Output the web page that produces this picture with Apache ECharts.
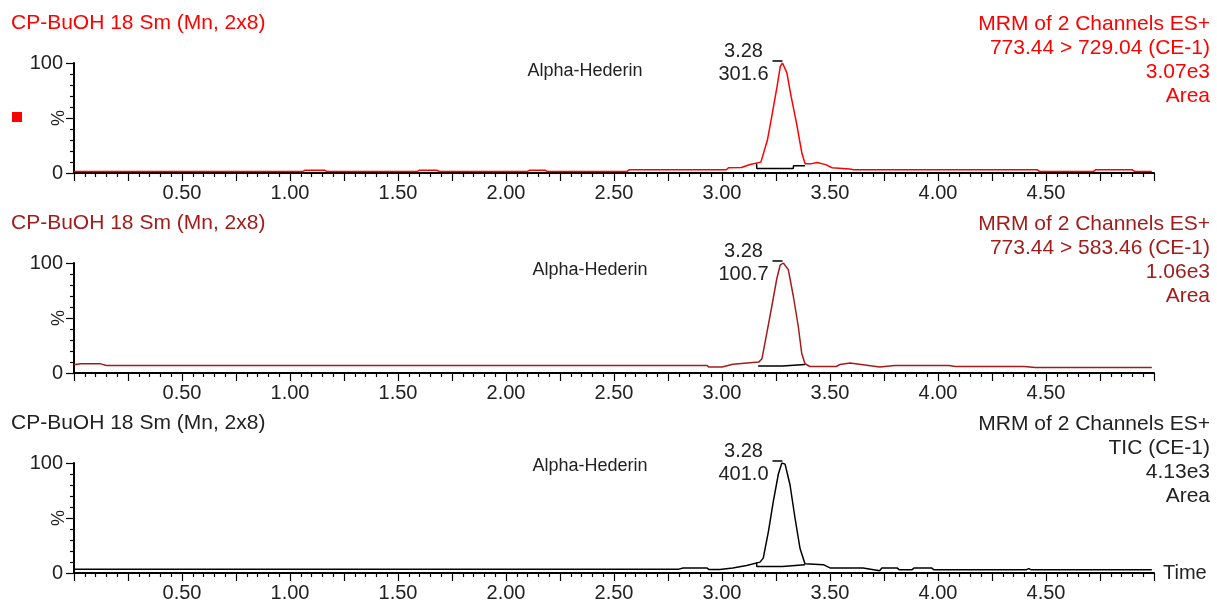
<!DOCTYPE html>
<html>
<head>
<meta charset="utf-8">
<script src="https://cdn.jsdelivr.net/npm/echarts@6/dist/echarts.min.js"></script>
<style>
  html,body{margin:0;padding:0;background:#fff;}
  #chart{width:1217px;height:606px;}
</style>
</head>
<body>
<div id="chart"></div>
<script>
(function(){
  const FONT = '"Liberation Sans", Arial, sans-serif';
  const TXT = '#222';

  // texts
  const sampleName = 'CP-BuOH 18 Sm (Mn, 2x8)';
  const compound = 'Alpha-Hederin';
  const peakTime = 3.28;
  const peakHeights = ['301.6', '100.7', '401.0'];
  const header1 = ['MRM of 2 Channels ES+', '773.44 > 729.04 (CE-1)', '3.07e3', 'Area'];
  const header2 = ['MRM of 2 Channels ES+', '773.44 > 583.46 (CE-1)', '1.06e3', 'Area'];
  const header3 = ['MRM of 2 Channels ES+', 'TIC (CE-1)', '4.13e3', 'Area'];
  const xTickLabels = ['0.50','1.00','1.50','2.00','2.50','3.00','3.50','4.00','4.50'];
  const yTickLabels = ['0', '100'];

  // traces: [time (min), % of peak]
  const trace1 = [[0.00,1.4],[1.06,1.4],[1.07,2.6],[1.16,2.6],[1.17,1.4],[1.59,1.4],[1.60,2.6],[1.68,2.6],
    [1.69,1.4],[2.10,1.4],[2.11,2.6],[2.18,2.6],[2.19,1.4],[2.56,1.4],[2.57,2.9],[3.02,2.9],[3.03,4.8],
    [3.09,5.0],[3.13,7.8],[3.18,9.9],[3.21,29.7],[3.23,51.0],[3.255,78.7],[3.27,97.0],[3.28,100],
    [3.30,91.3],[3.32,69.6],[3.345,45.4],[3.37,17.9],[3.385,8.3],[3.41,8.3],[3.44,9.5],[3.48,7.6],
    [3.51,4.8],[3.59,3.7],[3.61,2.9],[4.46,2.9],[4.47,1.4],[4.72,1.4],[4.73,2.9],[4.90,2.9],[4.91,1.4],[4.99,1.4]];
  const base1 = [[3.16,8.6],[3.161,4.2],[3.33,4.2],[3.331,6.6],[3.384,6.6]];

  const trace2 = [[0.00,7.5],[0.03,8.5],[0.12,8.5],[0.15,6.9],[2.93,6.9],[2.94,5.4],[3.00,5.4],[3.05,8.0],
    [3.17,9.9],[3.185,13.0],[3.207,35.8],[3.23,60.0],[3.253,85.0],[3.269,98.0],[3.284,100],[3.307,94.0],
    [3.33,70.0],[3.353,42.5],[3.369,18.0],[3.384,8.4],[3.407,5.9],[3.53,5.9],[3.546,7.8],[3.593,9.0],
    [3.653,7.6],[3.73,5.4],[3.80,6.9],[4.05,6.9],[4.08,5.9],[4.40,5.9],[4.45,5.0],[4.99,5.0]];
  const base2 = [[3.167,6.4],[3.28,6.4],[3.281,7.8],[3.384,7.8]];

  const trace3 = [[0.00,3.5],[2.80,3.5],[2.82,4.6],[2.93,4.6],[2.94,3.1],[2.99,3.1],[3.05,4.6],[3.114,6.9],
    [3.176,9.9],[3.191,13.5],[3.215,37.9],[3.238,65.5],[3.261,90.0],[3.277,100],[3.292,99.0],[3.315,80.0],
    [3.338,50.0],[3.361,22.5],[3.384,8.4],[3.469,7.6],[3.50,4.6],[3.653,4.6],[3.66,3.0],[3.73,2.1],
    [3.74,4.6],[3.81,4.6],[3.82,3.0],[3.88,3.0],[3.89,4.6],[3.97,4.6],[3.98,3.0],[4.41,3.0],[4.42,4.0],
    [4.43,3.0],[4.99,3.0]];
  const base3 = [[3.16,9.5],[3.161,6.0],[3.28,6.0],[3.281,7.5],[3.384,7.5]];

  const traces = [trace1, trace2, trace3];
  const bases = [base1, base2, base3];
  const headers = [header1, header2, header3];
  const colors = ['#ff0000', '#a31c1c', '#000000'];
  const titleColors = ['#ff0000', '#a31c1c', '#222222'];
  const compoundAt = [[2.366, 93], [2.389, 93.6], [2.389, 97]];

  // layout
  const tops = [63, 263, 463];
  const PH = 110;

  const grids = [], xAxes = [], yAxes = [], series = [], graphics = [];

  tops.forEach((top, i)=>{
    grids.push({left:74, width:1080, top:top, height:PH, outerBoundsMode:'none', containLabel:false});
    xAxes.push({
      type:'value', gridIndex:i, min:0, max:5, interval:0.25,
      name: i===2 ? 'Time' : '', nameLocation:'end', nameGap:9,
      nameTextStyle:{color:TXT, fontSize:20, fontFamily:FONT},
      axisLine:{lineStyle:{color:'#000', width:2}},
      axisTick:{show:true, length:8, lineStyle:{color:'#000', width:1.2}},
      minorTick:{show:true, splitNumber:5, length:4, lineStyle:{color:'#000', width:1.2}},
      splitLine:{show:false},
      axisLabel:{color:TXT, fontSize:20, fontFamily:FONT, margin:10,
        formatter:v=>{ const s=v.toFixed(2); return xTickLabels.includes(s)?s:''; }}
    });
    yAxes.push({
      type:'value', gridIndex:i, min:0, max:100, interval:50,
      name:'%', nameLocation:'middle', nameGap:6, nameRotate:90, nameMoveOverlap:false,
      nameTextStyle:{color:TXT, fontSize:18, fontFamily:FONT},
      axisLine:{show:true, lineStyle:{color:'#000', width:2}},
      axisTick:{show:true, length:8, lineStyle:{color:'#000', width:1.2}},
      minorTick:{show:true, splitNumber:5, length:4, lineStyle:{color:'#000', width:1.2}},
      splitLine:{show:false},
      axisLabel:{color:TXT, fontSize:20, fontFamily:FONT, margin:11,
        formatter:v=>{ const s=String(v); return yTickLabels.includes(s)?s:''; }}
    });
    series.push({
      type:'line', xAxisIndex:i, yAxisIndex:i, data:traces[i],
      showSymbol:false, silent:true,
      lineStyle:{color:colors[i], width:1.5},
      markPoint:{
        silent:true, animation:false,
        data:[
          {coord:[peakTime, 100], symbol:'rect', symbolSize:[10,1.5], symbolOffset:[-5,-2],
            itemStyle:{color:'#000'},
            label:{show:true, position:'left', distance:29, align:'center', offset:[0,2],
              formatter: peakTime.toFixed(2)+'\n'+peakHeights[i],
              color:TXT, fontSize:20, lineHeight:23, fontFamily:FONT}},
          {coord:compoundAt[i], symbol:'rect', symbolSize:0,
            label:{show:true, position:'inside', formatter:compound,
              color:TXT, fontSize:18, fontFamily:FONT}}
        ]
      }
    });
    series.push({
      type:'line', xAxisIndex:i, yAxisIndex:i, data:bases[i],
      showSymbol:false, silent:true,
      lineStyle:{color:'#000', width:1.5}
    });

    const tTop = top - 51;
    graphics.push({type:'text', left:11, top:tTop+1,
      style:{text:sampleName, fill:titleColors[i], font:'21px '+FONT}});
    graphics.push({type:'text', x:1210, y:tTop,
      style:{text:headers[i].join('\n'), fill:titleColors[i], font:'21px '+FONT,
        textAlign:'right', textVerticalAlign:'top', lineHeight:24}});
  });

  graphics.push({type:'rect', shape:{x:12, y:112, width:10, height:10}, style:{fill:'#ff0000'}});

  const chart = echarts.init(document.getElementById('chart'));
  chart.setOption({
    animation:false,
    backgroundColor:'#fff',
    grid:grids, xAxis:xAxes, yAxis:yAxes, series:series,
    graphic:graphics
  });
})();
</script>
</body>
</html>
